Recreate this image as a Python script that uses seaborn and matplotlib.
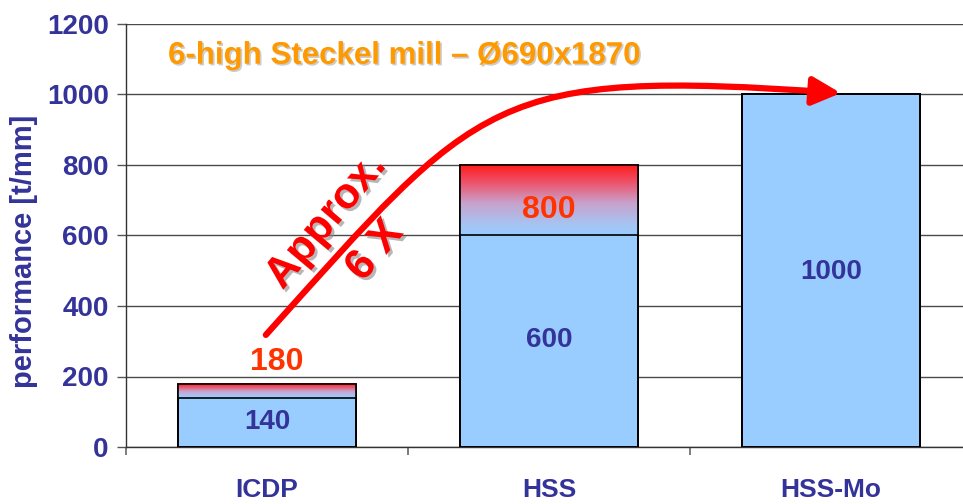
import numpy as np
import matplotlib
matplotlib.use("Agg")
import matplotlib.pyplot as plt
import matplotlib.patheffects as pe
from matplotlib.colors import LinearSegmentedColormap
from matplotlib.patches import FancyArrowPatch
from matplotlib.path import Path
import seaborn as sns

# data
categories = ["ICDP", "HSS", "HSS-Mo"]
base_values = [140, 600, 1000]
top_values = [180, 800, 1000]
base_label_pos = [72, 304, 497]
top_label_pos = [242, 672, None]
y_ticks = [0, 200, 400, 600, 800, 1000, 1200]
title_text = "6-high Steckel mill \u2013 \u00d8690x1870"
ylabel_text = "performance [t/mm]"
# curved arrow (cubic bezier control points, data units)
arrow_pts = [(-0.004, 318), (0.755, 993), (0.794, 1074), (2.035, 1004)]

navy = "#333399"
bar_blue = "#99CCFF"
red_orange = "#FF3300"

sns.set_style("white")
plt.rcParams["font.family"] = ["Liberation Sans", "DejaVu Sans"]
plt.rcParams["font.weight"] = "bold"

fig = plt.figure(figsize=(9.63, 5.04), dpi=100)
ax = fig.add_axes([126 / 963, 57 / 504, 1 - 126 / 963, (447 - 24) / 504])

bar_w = 0.63
sns.barplot(x=categories, y=top_values, color=bar_blue, saturation=1,
            width=bar_w, edgecolor="black", linewidth=1.2, ax=ax, zorder=2)

# gradient caps (red on top fading into the blue)
grad = LinearSegmentedColormap.from_list(
    "cap", [(0.0, "#99CCFF"), (0.15, "#A6C4F2"), (0.45, "#C8A2CC"),
            (0.75, "#EE5068"), (1.0, "#FF1A1A")])
ramp = np.linspace(0, 1, 256).reshape(-1, 1)
patches = list(ax.patches)
for p, b, t in zip(patches, base_values, top_values):
    if t > b:
        ax.imshow(ramp, cmap=grad, origin="lower", aspect="auto",
                  extent=(p.get_x(), p.get_x() + p.get_width(), b, t),
                  zorder=3)

sns.barplot(x=categories, y=base_values, color=bar_blue, saturation=1,
            width=bar_w, edgecolor="black", linewidth=1.2, ax=ax, zorder=4)
sns.barplot(x=categories, y=top_values, fill=False, width=bar_w,
            edgecolor="black", linewidth=1.2, ax=ax, zorder=5)

ax.set_xlim(-0.5, -0.5 + (963 - 126) / 282)
ax.set_ylim(0, 1200)
ax.set_yticks(y_ticks)
ax.yaxis.grid(True, color="#4a4a4a", linewidth=1.0)
ax.set_axisbelow(True)
for s in ["top", "right"]:
    ax.spines[s].set_visible(False)
for s in ["left", "bottom"]:
    ax.spines[s].set_color("#333333")
    ax.spines[s].set_linewidth(1.0)

ax.tick_params(axis="y", length=6.5, width=1, color="#555555", pad=6,
               labelsize=20, labelcolor=navy, left=True)
ax.set_xticks(range(len(categories)))
ax.set_xticklabels(categories)
ax.tick_params(axis="x", which="major", length=0, pad=22, labelsize=19,
               labelcolor=navy)
ax.set_xticks([-0.5, 0.5, 1.5], minor=True)
ax.tick_params(axis="x", which="minor", length=6, width=1.2, color="#666666",
               bottom=True)
for lab in ax.get_xticklabels() + ax.get_yticklabels():
    lab.set_fontweight("bold")

ax.set_xlabel("")
ax.set_ylabel(ylabel_text, fontsize=21, color=navy, fontweight="bold")
ax.yaxis.set_label_coords(-0.105, 0.463)

# value labels
for i, (b, pos) in enumerate(zip(base_values, base_label_pos)):
    ax.text(i, pos, str(b), ha="center", va="center", fontsize=20,
            color=navy, fontweight="bold", zorder=6)
for i, (t, pos) in enumerate(zip(top_values, top_label_pos)):
    if pos is not None:
        ax.text(i + (0.035 if i == 0 else 0.0), pos, str(t), ha="center",
                va="center", fontsize=23, color=red_orange,
                fontweight="bold", zorder=6)

shadow = [pe.withSimplePatchShadow(offset=(1.2, -1.2), shadow_rgbFace="#aaaaaa", alpha=0.6)]
ax.text(-0.351, 1110, title_text, ha="left", va="center", fontsize=22.5,
        color="#FF9900", fontweight="bold", path_effects=shadow, zorder=6)

arrow_path = Path(arrow_pts, [Path.MOVETO, Path.CURVE4, Path.CURVE4, Path.CURVE4])
arrow = FancyArrowPatch(path=arrow_path,
                        arrowstyle="-|>,head_length=1.0,head_width=0.5",
                        mutation_scale=17, color="#FF0000", linewidth=4.5,
                        transform=ax.transData, zorder=7)
ax.add_patch(arrow)

big_shadow = [pe.withSimplePatchShadow(offset=(2, -2), shadow_rgbFace="#888888", alpha=0.6)]
ax.text(0.21, 640, "Approx.", rotation=50, ha="center", va="center",
        rotation_mode="anchor", fontsize=31, color="#FF0000",
        fontweight="bold", path_effects=big_shadow, zorder=8)
ax.text(0.383, 556, "6 X", rotation=50, ha="center", va="center",
        rotation_mode="anchor", fontsize=31, color="#FF0000",
        fontweight="bold", path_effects=big_shadow, zorder=8)

fig.savefig("out.png", dpi=100)
